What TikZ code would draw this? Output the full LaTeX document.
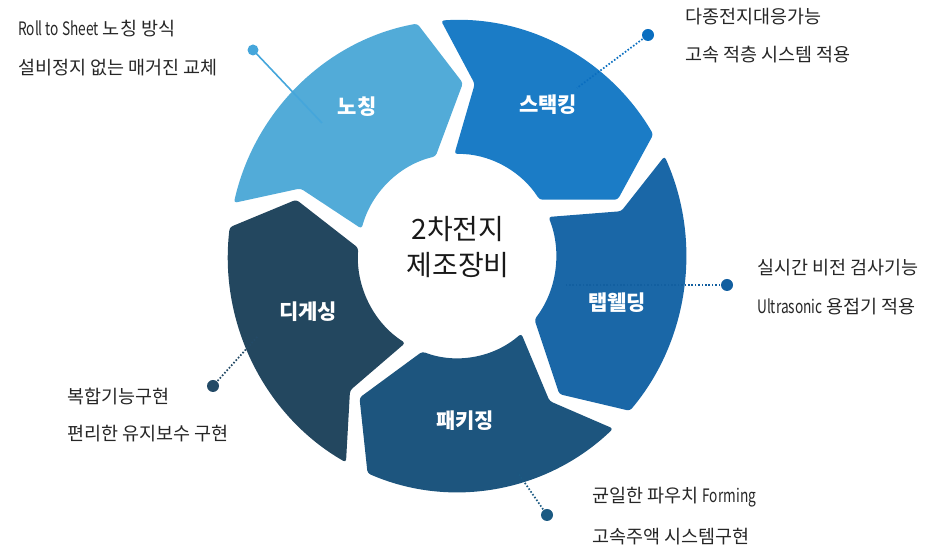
\documentclass[tikz,border=0pt]{standalone}
\usepackage{fontspec}
\setmainfont{Noto Sans CJK KR}
\usetikzlibrary{calc}
\definecolor{cA}{HTML}{52ABD8}
\definecolor{cB}{HTML}{1B7CC6}
\definecolor{cC}{HTML}{1A67A7}
\definecolor{cD}{HTML}{1D557E}
\definecolor{cE}{HTML}{23475F}
\definecolor{dA}{HTML}{45A6DB}
\definecolor{dB}{HTML}{0A6EC0}
\definecolor{dC}{HTML}{125FA0}
\definecolor{dD}{HTML}{1C5A82}
\definecolor{dE}{HTML}{234A66}
\definecolor{txt}{HTML}{262626}
\newcommand{\ringseg}[3]{%
  \fill[#1, rounded corners=3pt]
    ({#2-3}:229pt and 236pt)
    arc[start angle={#2-3}, end angle={#3+3}, x radius=229pt, y radius=236pt]
    -- ({#3-9}:170pt and 173pt)
    -- ({#3+5.5}:99pt and 102pt)
    arc[start angle={#3+5.5}, end angle={#2-5.5}, x radius=99pt, y radius=102pt]
    -- ({#2-13}:170pt and 173pt) -- cycle;}
\newcommand{\narrow}[1]{\scalebox{0.74}[1]{#1}}
\begin{document}
\begin{tikzpicture}[x=1pt,y=1pt,
  seglabel/.style={text=white, font=\fontsize{21}{24}\selectfont\bfseries, inner sep=0pt},
  callout/.style={anchor=west, text=txt, font=\fontsize{18.5}{22}\selectfont, inner sep=0pt},
  dotnode/.style={circle, inner sep=0pt, minimum size=12pt},
  dotline/.style={line width=1.7pt, dash pattern=on 1.6pt off 1.8pt},
]
\useasboundingbox (0,0) rectangle (938,548);
\begin{scope}[shift={(457,292)}]
  \ringseg{cA}{170}{97}
  \ringseg{cB}{97}{28}
  \ringseg{cC}{28}{-44}
  \ringseg{cD}{-44}{-116}
  \ringseg{cE}{-116}{-190}
\end{scope}

% segment labels
\node[seglabel] (notching) at (357,441) {노칭};
\node[seglabel] (stacking) at (548,443) {스택킹};
\node[seglabel] (tabweld) at (617,245) {탭웰딩};
\node[seglabel] (packaging) at (465,127) {패키징};
\node[seglabel] (degassing) at (308,236) {디게싱};

% center
\node[font=\fontsize{28}{34}\selectfont, text=black!90, align=center, inner sep=0pt] (center) at (458,301) {2차전지\\[2pt]제조장비};

% callout dots and lines
\node[dotnode, fill=dA, minimum size=11pt] (dA) at (253,498) {};
\coordinate (eA) at (322,425);
\draw[dA, line width=1.6pt] (dA.center) -- (eA);

\node[dotnode, fill=dB] (dB) at (648,513) {};
\coordinate (eB) at (577,460);
\draw[dB, dotline] (dB.center) -- (eB);

\node[dotnode, fill=dC] (dC) at (727,263) {};
\coordinate (eC) at (566,263);
\draw[dC, dotline] (dC.center) -- (eC);

\node[dotnode, fill=dE] (dE) at (213,162) {};
\coordinate (eE) at (258,212);
\draw[dE, dotline] (dE.center) -- (eE);

\node[dotnode, fill=dD] (dD) at (547,33) {};
\coordinate (eD) at (518,75);
\draw[dD, dotline] (dD.center) -- (eD);

% callout texts
\node[callout] (tA1) at (18,519) {\narrow{Roll to Sheet} 노칭 방식};
\node[callout] (tA2) at (18,480) {설비정지 없는 매거진 교체};
\node[callout] (tB1) at (685,531) {다종전지대응가능};
\node[callout] (tB2) at (685,493) {고속 적층 시스템 적용};
\node[callout] (tC1) at (757,280) {실시간 비전 검사기능};
\node[callout] (tC2) at (757,241) {\narrow{Ultrasonic} 용접기 적용};
\node[callout] (tE1) at (67,151) {복합기능구현};
\node[callout] (tE2) at (67,114) {편리한 유지보수 구현};
\node[callout] (tD1) at (592,51) {균일한 파우치 \narrow{Forming}};
\node[callout] (tD2) at (592,11) {고속주액 시스템구현};
\end{tikzpicture}
\end{document}
